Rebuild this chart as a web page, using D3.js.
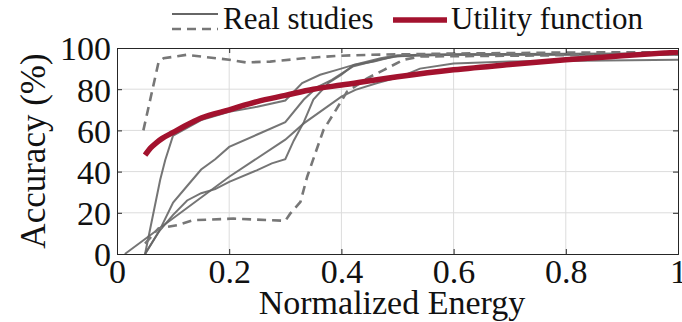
<!DOCTYPE html>
<html>
<head>
<meta charset="utf-8">
<script src="https://cdn.jsdelivr.net/npm/d3@7"></script>
<style>
  body { margin: 0; background: #fff; }
  text { font-family: "Liberation Serif", "Times New Roman", serif; fill: #111; }
</style>
</head>
<body>
<div class="vis-chart"></div>
<script>
// tick labels
const xTicks = [0, 0.2, 0.4, 0.6, 0.8, 1];
const yTicks = [0, 20, 40, 60, 80, 100];

// real studies, solid (normalized energy, accuracy %)
const real1 = [[0.05, 0], [0.077, 36], [0.086, 45.6], [0.1, 57.5], [0.15, 65], [0.2, 69], [0.25, 71.5], [0.3, 74.5], [0.33, 83], [0.362, 87], [0.392, 89.4], [0.422, 91.8], [0.458, 93.4], [0.493, 95.9], [0.54, 96.7], [1, 97]];
const real2 = [[0.05, 0], [0.075, 11], [0.1, 25], [0.125, 33], [0.15, 41], [0.175, 46], [0.2, 52], [0.25, 58], [0.3, 64], [0.333, 75], [0.357, 81], [0.383, 84.5], [0.42, 91], [0.47, 94.5], [0.5, 96], [0.6, 96.7], [1, 96.7]];
const real3 = [[0.014, 0], [0.2, 37.5], [0.3, 55.5], [0.333, 63.4], [0.4, 76.4], [0.425, 79.7], [0.464, 83], [0.505, 86], [0.54, 90], [0.6, 92.5], [0.7, 93.5], [1, 94.3]];
const real4 = [[0.05, 0], [0.075, 11], [0.1, 19], [0.125, 26], [0.15, 29.5], [0.175, 31.5], [0.2, 35], [0.25, 40.7], [0.276, 44], [0.3, 46], [0.315, 55], [0.333, 64], [0.35, 75], [0.377, 83], [0.4, 87], [0.422, 91.8], [0.47, 95], [0.5, 96.5], [0.6, 97], [1, 97.5]];

// real studies, dashed
const realDash1 = [[0.047, 60], [0.074, 93], [0.083, 95], [0.124, 96.7], [0.2, 94.3], [0.23, 93], [0.273, 93.4], [0.333, 95], [0.392, 96.2], [0.45, 96.7], [0.6, 97.3], [0.8, 97.8], [1, 98]];
const realDash2 = [[0.05, 5], [0.074, 12.4], [0.107, 14], [0.136, 16.4], [0.208, 17.2], [0.3, 16.1], [0.309, 19.7], [0.327, 25.3], [0.339, 37.5], [0.368, 60.2], [0.392, 70.7], [0.41, 78.8], [0.446, 85.3], [0.476, 89.4], [0.511, 94.3], [0.541, 95.9], [0.6, 96], [0.8, 96.5], [1, 97]];

// utility function
const utility = [[0.05, 48], [0.06, 51.5], [0.07, 54], [0.08, 56], [0.1, 59], [0.12, 62], [0.15, 66], [0.2, 70], [0.25, 74], [0.3, 77], [0.35, 80], [0.4, 82], [0.5, 86], [0.6, 89.4], [0.7, 92], [0.8, 94.3], [0.9, 96.2], [1, 98]];

const W = 682, H = 322;
const margin = { top: 48, right: 4, bottom: 68, left: 117 };
const width = W - margin.left - margin.right;
const height = H - margin.top - margin.bottom;

const svg = d3.select(".vis-chart").append("svg")
  .attr("width", W).attr("height", H);
const g = svg.append("g")
  .attr("transform", "translate(" + margin.left + "," + margin.top + ")");

const x = d3.scaleLinear().domain([0, 1]).range([0, width]);
const y = d3.scaleLinear().domain([0, 100]).range([height, 0]);

// grid
g.append("g").selectAll("line").data(xTicks.slice(1, -1)).enter().append("line")
  .attr("x1", d => x(d)).attr("x2", d => x(d))
  .attr("y1", 0).attr("y2", height)
  .attr("stroke", "#dcdcdc").attr("stroke-width", 1);
g.append("g").selectAll("line").data(yTicks.slice(1, -1)).enter().append("line")
  .attr("x1", 0).attr("x2", width)
  .attr("y1", d => y(d)).attr("y2", d => y(d))
  .attr("stroke", "#dcdcdc").attr("stroke-width", 1);

const line = d3.line().x(d => x(d[0])).y(d => y(d[1]));
const smooth = d3.line().x(d => x(d[0])).y(d => y(d[1])).curve(d3.curveMonotoneX);

[real1, real2, real3, real4].forEach(s => {
  g.append("path").datum(s)
    .attr("fill", "none").attr("stroke", "#666")
    .attr("stroke-width", 2).attr("stroke-opacity", 0.9)
    .attr("d", line);
});
[realDash1, realDash2].forEach(s => {
  g.append("path").datum(s)
    .attr("fill", "none").attr("stroke", "#777")
    .attr("stroke-width", 2.6).attr("stroke-dasharray", "9,6")
    .attr("d", line);
});
g.append("path").datum(utility)
  .attr("fill", "none").attr("stroke", "#a3122e")
  .attr("stroke-width", 5.5)
  .attr("d", smooth);

// axes, ticks inward like matlab box
const axColor = "#262626";
const xAx = g.append("g").attr("transform", "translate(0," + height + ")")
  .call(d3.axisBottom(x).tickValues(xTicks).tickSize(-5).tickPadding(5)
    .tickFormat(d => d === 0 ? "0" : d === 1 ? "1" : d3.format(".1f")(d)));
const yAx = g.append("g")
  .call(d3.axisLeft(y).tickValues(yTicks).tickSize(-5).tickPadding(6));
g.append("g").attr("transform", "translate(0,0)")
  .call(d3.axisTop(x).tickValues(xTicks).tickSize(-5).tickFormat(""));
g.append("g").attr("transform", "translate(" + width + ",0)")
  .call(d3.axisRight(y).tickValues(yTicks).tickSize(-5).tickFormat(""));
g.selectAll(".domain, .tick line").attr("stroke", axColor);
g.selectAll(".tick text")
  .style("font-family", "'Liberation Serif', serif")
  .style("font-size", "34px").attr("fill", "#111");
xAx.selectAll(".tick text").attr("dy", "0.71em");
yAx.selectAll(".tick text").attr("dy", "0.35em");

// axis titles
svg.append("text")
  .attr("x", 392).attr("y", 314)
  .attr("text-anchor", "middle")
  .style("font-size", "34px")
  .text("Normalized Energy");
svg.append("text")
  .attr("transform", "translate(45," + (margin.top + height / 2) + ") rotate(-90)")
  .attr("text-anchor", "middle")
  .style("font-size", "35px")
  .text("Accuracy (%)");

// legend
const leg = svg.append("g");
leg.append("line").attr("x1", 172).attr("x2", 218).attr("y1", 14).attr("y2", 14)
  .attr("stroke", "#666").attr("stroke-width", 2);
leg.append("line").attr("x1", 172).attr("x2", 218).attr("y1", 29).attr("y2", 29)
  .attr("stroke", "#777").attr("stroke-width", 2.6).attr("stroke-dasharray", "9,6");
leg.append("text").attr("x", 223).attr("y", 29)
  .style("font-size", "31px").text("Real studies");
leg.append("line").attr("x1", 393).attr("x2", 447).attr("y1", 20).attr("y2", 20)
  .attr("stroke", "#a3122e").attr("stroke-width", 5.5);
leg.append("text").attr("x", 451).attr("y", 29)
  .style("font-size", "31px").text("Utility function");
</script>
</body>
</html>
